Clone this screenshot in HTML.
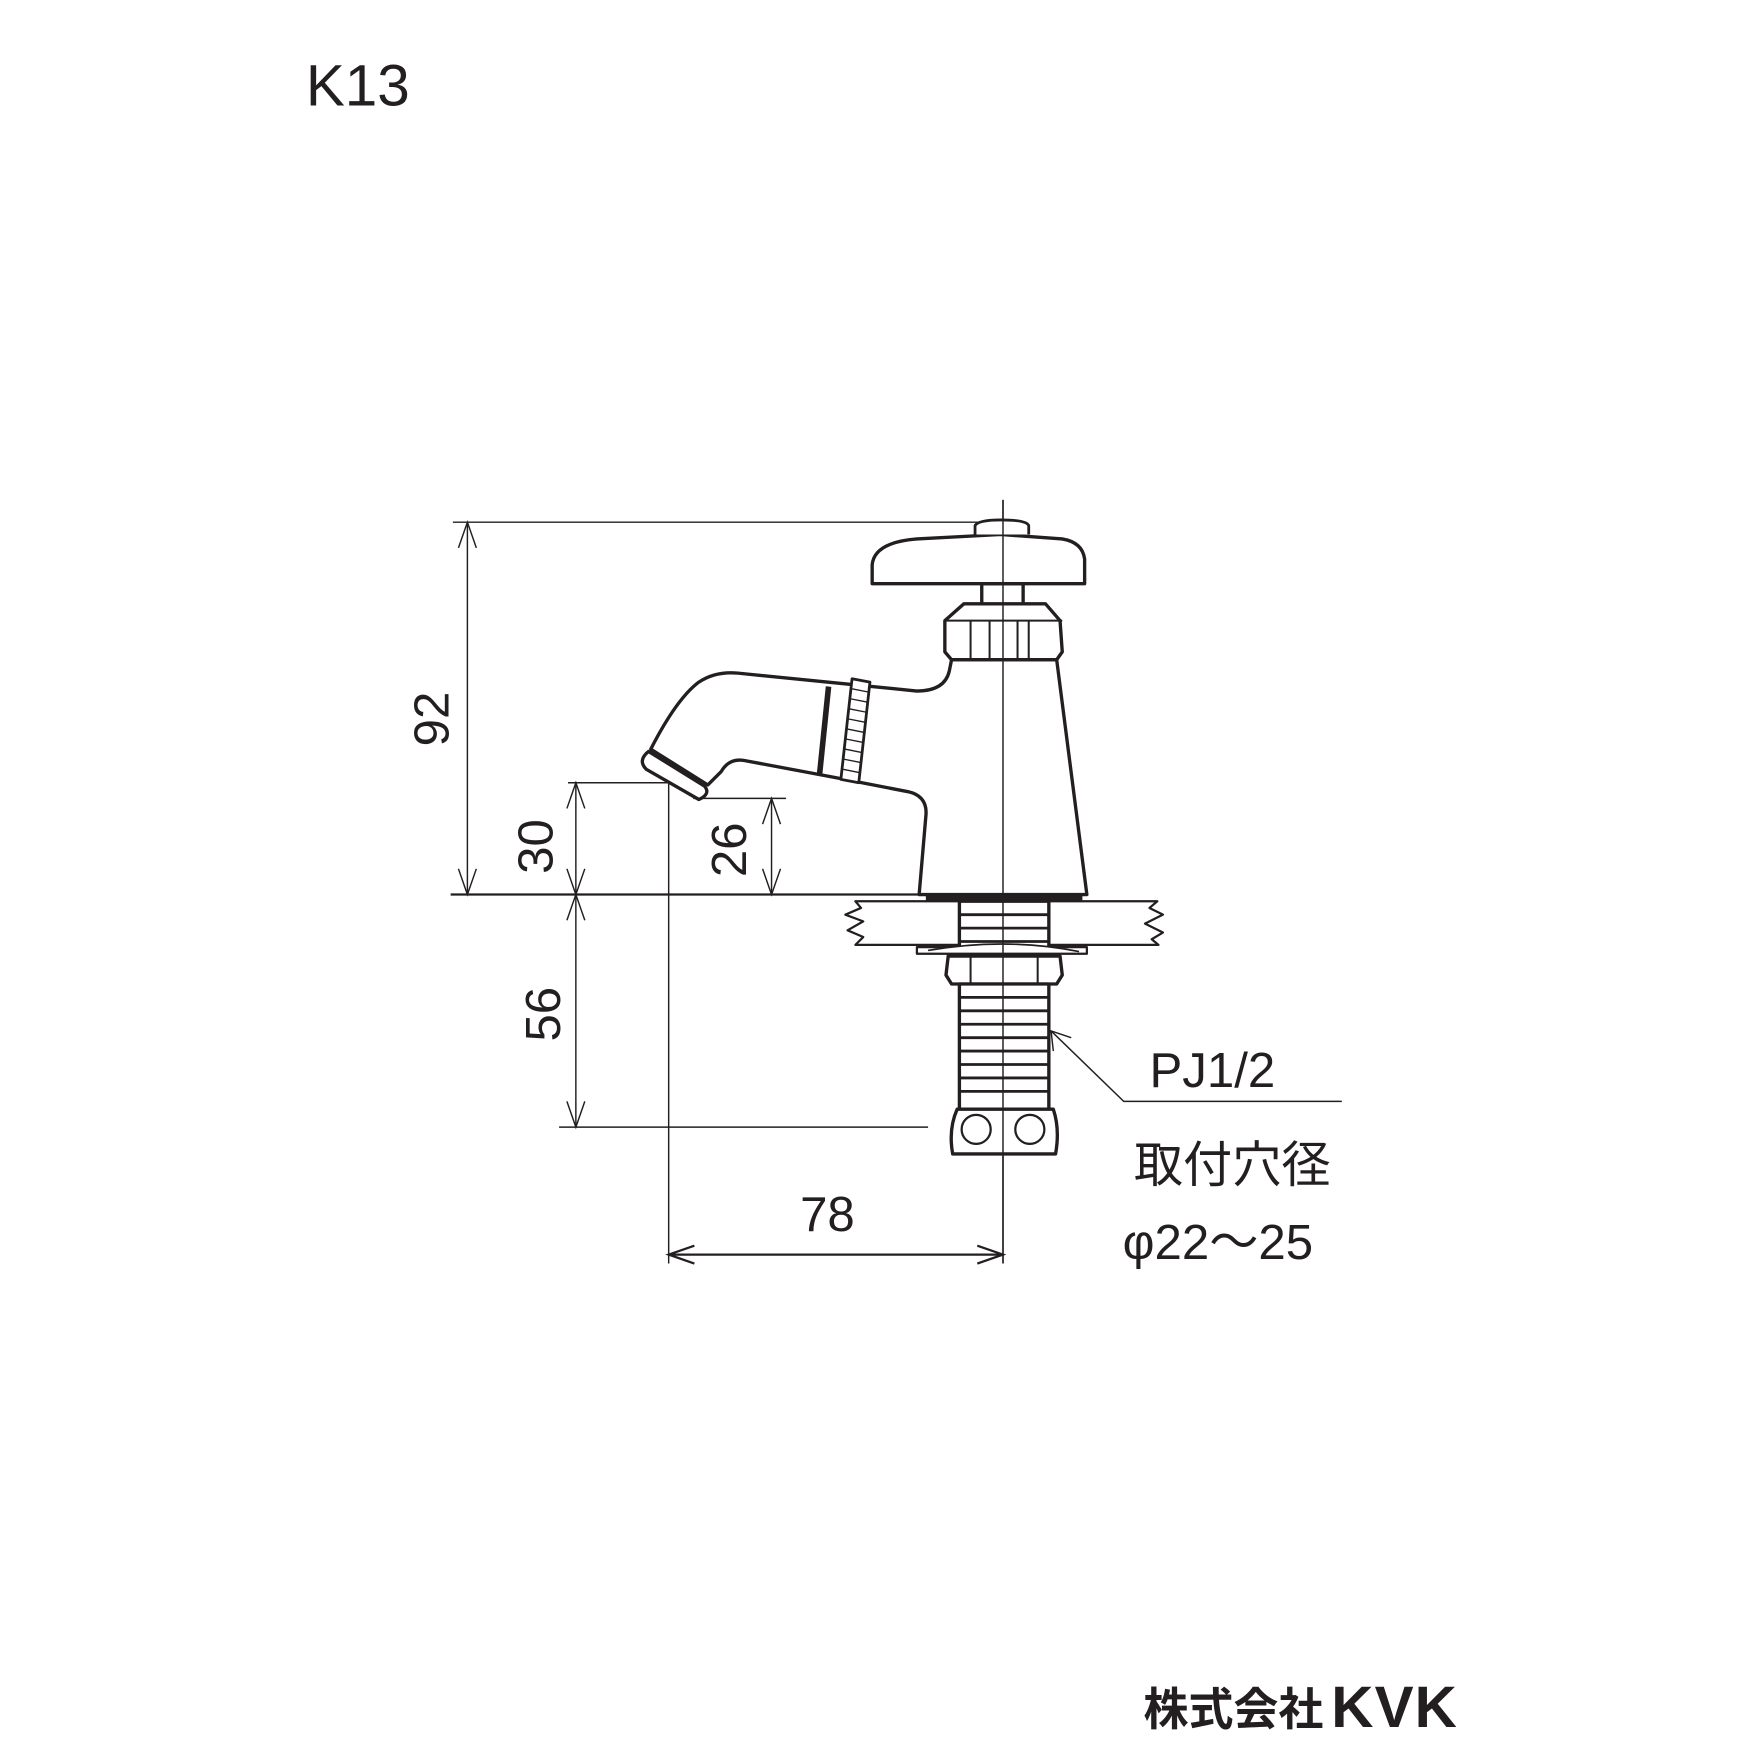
<!DOCTYPE html>
<html><head><meta charset="utf-8"><style>html,body{margin:0;padding:0;background:#fff}svg{display:block}</style></head>
<body>
<svg width="1754" height="1754" viewBox="0 0 1560 1560" xmlns="http://www.w3.org/2000/svg">
<rect width="1560" height="1560" fill="#fff"/>
<g font-family="'Liberation Sans','Noto Sans CJK JP',sans-serif" fill="#231f20">
<text x="272" y="94" font-size="52">K13</text>
<text x="1017" y="1534" font-size="40" font-weight="bold">株式会社</text>
<text x="1184" y="1536" font-size="52" font-weight="bold" letter-spacing="1">KVK</text>
</g>
<g transform="scale(0.9945)">
<g font-family="'Liberation Sans','Noto Sans CJK JP',sans-serif" fill="#231f20">
<text x="1028" y="972" font-size="44">PJ1/2</text>
<text x="1014" y="1057" font-size="44">取付穴径</text>
<text x="1004" y="1126" font-size="44">φ22～25</text>
<text x="740" y="1101" font-size="44" text-anchor="middle">78</text>
<text font-size="44" text-anchor="middle" transform="translate(401,643) rotate(-90)">92</text>
<text font-size="44" text-anchor="middle" transform="translate(494,757) rotate(-90)">30</text>
<text font-size="44" text-anchor="middle" transform="translate(667,760) rotate(-90)">26</text>
<text font-size="44" text-anchor="middle" transform="translate(501,907) rotate(-90)">56</text>
</g>
<g stroke="#231f20" fill="none" stroke-width="1.3">
<line x1="897" y1="447" x2="897" y2="1130"/>
<line x1="405" y1="467" x2="893" y2="467"/>
<line x1="403" y1="800" x2="822" y2="800" stroke-width="2"/>
<line x1="418" y1="467" x2="418" y2="800"/>
<path d="M410,490 L418,467 L426,490 M410,777 L418,800 L426,777"/>
<line x1="508" y1="700" x2="598" y2="700"/>
<line x1="515" y1="700" x2="515" y2="1008"/>
<path d="M507,723 L515,700 L523,723 M507,777 L515,800 L523,777 M507,823 L515,800 L523,823 M507,985 L515,1008 L523,985"/>
<line x1="620" y1="714" x2="703" y2="714"/>
<line x1="690" y1="714" x2="690" y2="800"/>
<path d="M682,737 L690,714 L698,737 M682,777 L690,800 L698,777"/>
<line x1="598" y1="700" x2="598" y2="1130"/>
<line x1="598" y1="1122" x2="897" y2="1122" stroke-width="2"/>
<path d="M621,1114 L598,1122 L621,1130 M874,1114 L897,1122 L874,1130" stroke-width="2"/>
<line x1="500" y1="1008" x2="830" y2="1008"/>
<path d="M940,922 L1005,985 L1200,985"/>
<path d="M942,940 L940,922 L958,928"/>
</g>
<g stroke="#231f20" fill="#fff" stroke-width="3" stroke-linejoin="round">
<path d="M765,806 L1035,806 L1028,812 L1040,818 L1024,826 L1040,834 L1030,840 L1036,845 L765,845 L772,838 L758,832 L772,824 L756,818 L770,812 Z" stroke-width="2"/>
<path d="M851,590 L945,590 L972,800 L822,800 L828,730 Q830,712 812,708 L745,695 L665,680 Q652,678 645,690 L633,702 L582,670 Q605,625 625,610 Q640,600 660,602 L760,612 L820,618 Q845,618 849,600 Z"/>
<path d="M580,672 L630,703 Q636,710 625,715 L578,688 Q570,680 580,672 Z"/>
<line x1="741" y1="614" x2="733" y2="692" stroke-width="5"/>
<path d="M762,607 L778,610 L768,700 L752,697 Z" stroke-width="2.5"/>
<path d="M762,616 L777,619 M761,625 L776,628 M760,634 L775,637 M759,643 L774,646 M758,652 L773,655 M757,661 L772,664 M756,670 L771,673 M755,679 L770,682 M754,688 L769,691" stroke-width="1.2"/>
<rect x="828" y="800" width="140" height="6" fill="#231f20" stroke="none"/>
<path d="M862,540 L935,540 L948,555 L950,583 L945,590 L851,590 L845,583 L845,555 Z"/>
<path d="M845,555 L950,555 M868,555 L868,590 M920,555 L920,590 M885,555 L885,590 M910,555 L910,590" stroke-width="1.8"/>
<rect x="878" y="522" width="37" height="18"/>
<path d="M780,522 L970,522 L970,500 Q968,485 950,482 L895,478 L820,482 Q782,485 780,505 Z"/>
<path d="M872,478 L872,470 Q875,465 895,465 Q918,465 920,470 L920,478" stroke-width="2.5"/>
<rect x="858" y="806" width="80" height="44"/>
<path d="M858,818 L938,818 M858,830 L938,830 M858,842 L938,842" stroke-width="2.5"/>
<path d="M820,847 L972,847 L972,853 L820,853 Z" stroke-width="2"/>
<path d="M830,850 Q900,838 965,851" stroke-width="1.5"/>
<path d="M848,855 L948,855 L950,872 L945,880 L851,880 L846,872 Z"/>
<path d="M868,855 L868,880 M928,855 L928,880" stroke-width="1.8"/>
<rect x="858" y="880" width="80" height="112"/>
<path d="M858,892 L938,892 M858,904 L938,904 M858,916 L938,916 M858,928 L938,928 M858,940 L938,940 M858,952 L938,952 M858,964 L938,964 M858,976 L938,976" stroke-width="2.5"/>
<path d="M856,992 L942,992 Q948,1010 944,1032 L852,1032 Q848,1010 856,992 Z"/>
<circle cx="873" cy="1010" r="13" stroke-width="2"/>
<circle cx="921" cy="1010" r="13" stroke-width="2"/>
</g>
<line x1="897" y1="447" x2="897" y2="1130" stroke="#231f20" stroke-width="1.3"/>
</g>
</svg>
</body></html>
